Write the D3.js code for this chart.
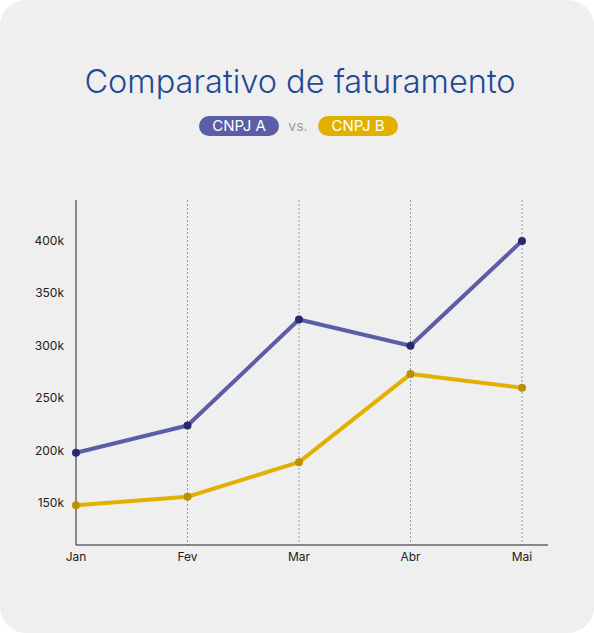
<!DOCTYPE html>
<html><head><meta charset="utf-8">
<script src="https://cdn.jsdelivr.net/npm/d3@7"></script>
<style>
body{margin:0;background:#fff;font-family:Inter,"Noto Sans",sans-serif;}
</style></head>
<body>
<script>
var WIDTH = 594, HEIGHT = 633;

var months = ["Jan", "Fev", "Mar", "Abr", "Mai"];
var cnpjA = [198000, 224000, 325000, 300000, 400000];
var cnpjB = [148000, 156000, 189000, 273000, 260000];
var yTicks = [150000, 200000, 250000, 300000, 350000, 400000];

var svg = d3.select("body").append("svg")
  .attr("width", WIDTH).attr("height", HEIGHT);

svg.append("rect").attr("x", 0).attr("y", 0).attr("width", WIDTH).attr("height", HEIGHT)
  .attr("rx", 26).attr("fill", "#efefef");

svg.append("text").attr("x", 300).attr("y", 93).attr("text-anchor", "middle")
  .attr("font-size", 32.5).attr("font-weight", 300).attr("fill", "#1f4a94").text("Comparativo de faturamento");

// legend
function pill(x, label, color) {
  svg.append("rect").attr("x", x).attr("y", 116).attr("width", 80).attr("height", 20)
    .attr("rx", 10).attr("fill", color);
  svg.append("text").attr("x", x + 40).attr("y", 131).attr("text-anchor", "middle")
    .attr("font-size", 15).attr("fill", "#fff").text(label);
}
pill(199, "CNPJ A", "#5b5ea6");
pill(318, "CNPJ B", "#e2b100");
svg.append("text").attr("x", 298).attr("y", 131).attr("text-anchor", "middle")
  .attr("font-size", 14).attr("fill", "#a0a0a0").text("vs.");

var x = d3.scalePoint().domain(months).range([76, 522]);
var y = d3.scaleLinear().domain([110000, 439000]).range([545, 200]);

// grid
svg.selectAll(".grid").data(months.slice(1)).enter().append("line")
  .attr("x1", function (d) { return x(d); }).attr("x2", function (d) { return x(d); })
  .attr("y1", 200).attr("y2", 545)
  .attr("stroke", "#999").attr("stroke-dasharray", "2,2").attr("stroke-width", 1);

// axes
svg.append("line").attr("x1", 76).attr("x2", 76).attr("y1", 200).attr("y2", 545).attr("stroke", "#222");
svg.append("line").attr("x1", 76).attr("x2", 548).attr("y1", 545).attr("y2", 545).attr("stroke", "#222");

svg.selectAll(".yl").data(yTicks).enter().append("text")
  .attr("x", 64).attr("y", function (d) { return y(d) + 4; })
  .attr("text-anchor", "end").attr("font-size", 12).attr("fill", "#222")
  .text(function (d) { return (d / 1000) + "k"; });

svg.selectAll(".xl").data(months).enter().append("text")
  .attr("x", function (d) { return x(d); }).attr("y", 561)
  .attr("text-anchor", "middle").attr("font-size", 12).attr("fill", "#222")
  .text(function (d) { return d; });

var line = d3.line()
  .x(function (d, i) { return x(months[i]); })
  .y(function (d) { return y(d); });

function series(data, color, dot) {
  svg.append("path").datum(data).attr("d", line)
    .attr("fill", "none").attr("stroke", color).attr("stroke-width", 4)
    .attr("stroke-linejoin", "round");
  svg.selectAll(null).data(data).enter().append("circle")
    .attr("cx", function (d, i) { return x(months[i]); })
    .attr("cy", function (d) { return y(d); })
    .attr("r", 4).attr("fill", dot);
}
series(cnpjB, "#e2b100", "#b89200");
series(cnpjA, "#5b5ea6", "#272a6e");
</script>
</body></html>
